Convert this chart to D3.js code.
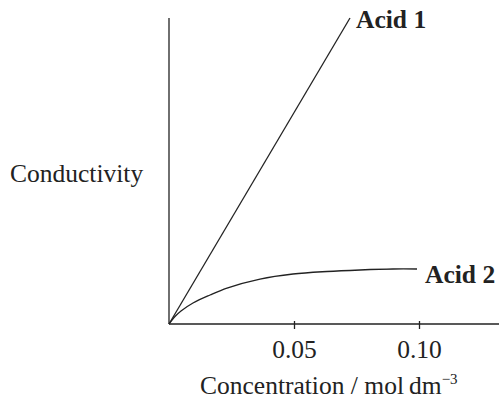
<!DOCTYPE html>
<html>
<head>
<meta charset="utf-8">
<script src="https://cdn.jsdelivr.net/npm/d3@7"></script>
<style>
  html, body { margin: 0; padding: 0; background: #fff; }
  svg { display: block; font-family: "Liberation Serif", "DejaVu Serif", serif; }
  .lbl { font-size: 25.5px; fill: #222; }
  .tag { font-size: 25.5px; font-weight: bold; fill: #222; }
  .curve { fill: none; stroke: #222; stroke-width: 1.3; }
</style>
</head>
<body>
<svg id="chart" width="499" height="400"></svg>
<script>
// ---- data (conductivity in arbitrary units) ----
const tickValues = [0.05, 0.10];
const tickLabels = ["0.05", "0.10"];
const acid1Conc = [0, 0.0724];
const acid1Cond = [0, 100];
const acid2Conc = [0, 0.0024, 0.0048, 0.0096, 0.0164, 0.0232, 0.0364, 0.0496, 0.0632, 0.0764, 0.0896, 0.0992];
const acid2Cond = [0, 2.45, 4.25, 6.86, 9.48, 11.76, 14.7, 16.34, 17.16, 17.65, 17.97, 17.97];
const seriesNames = ["Acid 1", "Acid 2"];

const svg = d3.select("#chart");
const x = d3.scaleLinear().domain([0, 0.1]).range([169, 419]);
const y = d3.scaleLinear().domain([0, 100]).range([324, 18]);
const xEnd = 499;

// axes: plain lines, x ticks only
svg.append("line").attr("x1", x(0)).attr("x2", xEnd).attr("y1", y(0)).attr("y2", y(0))
  .attr("stroke", "#222").attr("stroke-width", 1.3);
svg.append("line").attr("x1", x(0)).attr("x2", x(0)).attr("y1", y(0)).attr("y2", y(100))
  .attr("stroke", "#222").attr("stroke-width", 1.3);

const xAxis = d3.axisBottom(x).tickValues(tickValues).tickSize(0)
  .tickFormat((d, i) => tickLabels[i]);
const gx = svg.append("g").attr("transform", `translate(0,${y(0)})`).call(xAxis);
gx.select(".domain").remove();
gx.selectAll(".tick").append("line").attr("y1", -3).attr("y2", 5)
  .attr("stroke", "#222").attr("stroke-width", 1.3);
gx.selectAll(".tick text").attr("class", "lbl").attr("y", 34).attr("dy", null);
gx.attr("font-family", null).attr("font-size", null);

// curves
const line = d3.line().x((d) => x(d[0])).y((d) => y(d[1]));
const a1 = acid1Conc.map((c, i) => [c, acid1Cond[i]]);
const a2 = acid2Conc.map((c, i) => [c, acid2Cond[i]]);
svg.append("path").attr("class", "curve").attr("d", line(a1));
svg.append("path").attr("class", "curve").attr("d", line.curve(d3.curveCatmullRom.alpha(0.5))(a2));

// series labels at line ends
const end1 = a1[a1.length - 1], end2 = a2[a2.length - 1];
svg.append("text").attr("class", "tag").attr("x", x(end1[0]) + 6).attr("y", y(end1[1]) + 10).text(seriesNames[0]);
svg.append("text").attr("class", "tag").attr("x", x(end2[0]) + 8).attr("y", y(end2[1]) + 14).text(seriesNames[1]);

// axis titles
svg.append("text").attr("class", "lbl").attr("x", 10).attr("y", 182).text("Conductivity");
const xt = svg.append("text").attr("class", "lbl").attr("x", 200).attr("y", 394);
xt.append("tspan").text("Concentration / mol\u2009dm");
xt.append("tspan").attr("dy", -10).attr("font-size", 15).text("\u22123");
</script>
</body>
</html>
